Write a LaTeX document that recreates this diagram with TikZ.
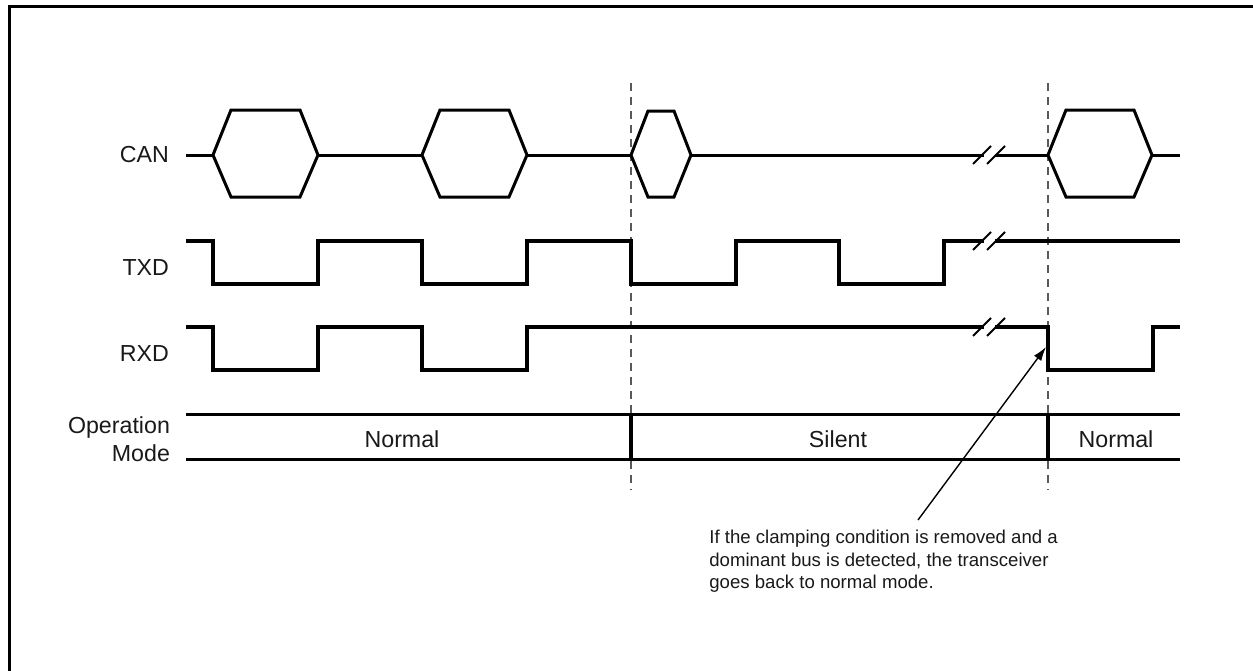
\documentclass[tikz,border=0pt]{standalone}
\usepackage{fontspec}
\setmainfont{Liberation Sans}
\usetikzlibrary{arrows.meta}

\tikzset{
  sig/.style={line width=1.5pt, line join=miter},
  txdsig/.style={line width=2.1pt, line join=miter},
  rxdsig/.style={line width=1.7pt, line join=miter},
  brk/.style={line width=0.9pt},
  marker/.style={dash pattern=on 4pt off 3pt, line width=0.7pt, color=black!65},
  lbl/.style={anchor=east, font=\fontsize{11.6}{14}\selectfont, text=black!90},
  modetxt/.style={font=\fontsize{11.6}{14}\selectfont, text=black!90},
}

\begin{document}
\begin{tikzpicture}[x=0.5pt, y=-0.5pt]
    \clip (0,0) rectangle (1253,670);
    \draw [line width=1.5pt] (9.7, 6.3) rectangle (1300, 720);

    % signal names
    \node[lbl] (can) at (176, 155) {CAN};
    \node[lbl] (txd) at (176, 268) {TXD};
    \node[lbl] (rxd) at (176, 354) {RXD};
    \node[lbl, align=right] (opmode) at (177, 439) {Operation\\Mode};

    % mode changes
    \draw [marker] (631, 83) -- (631, 490);
    \draw [marker] (1048, 83) -- (1048, 490);

    % CAN bus
    \draw [sig] (186, 155) -- (213, 155);
    \draw [sig] (318, 155) -- (422, 155);
    \draw [sig] (527, 155) -- (631, 155);
    \draw [sig] (691, 155) -- (984, 155);
    \draw [sig] (995, 155) -- (1048, 155);
    \draw [sig] (1152, 155) -- (1180, 155);
    \foreach \a/\b in {213/318, 422/527, 1048/1152}
        \draw [sig] (\a, 155) -- (\a+18, 110) -- (\b-18, 110) -- (\b, 155)
                    -- (\b-18, 197) -- (\a+18, 197) -- cycle;
    \draw [sig] (631, 155) -- (648, 111) -- (674, 111) -- (691, 155)
                -- (674, 197) -- (648, 197) -- cycle;

    % TXD
    \draw [txdsig] (186, 241) -- (213, 241) -- (213, 284) -- (318, 284) -- (318, 241)
        -- (422, 241) -- (422, 284) -- (527, 284) -- (527, 241) -- (631, 241)
        -- (631, 284) -- (736, 284) -- (736, 241) -- (839, 241) -- (839, 284)
        -- (944, 284) -- (944, 241) -- (984, 241);
    \draw [txdsig] (995, 241) -- (1180, 241);

    % RXD
    \draw [rxdsig] (186, 327) -- (213, 327) -- (213, 370) -- (318, 370) -- (318, 327)
        -- (422, 327) -- (422, 370) -- (527, 370) -- (527, 327) -- (984, 327);
    \draw [rxdsig] (995, 327) -- (1048, 327) -- (1048, 370) -- (1153, 370)
        -- (1153, 327) -- (1180, 327);

    % breaks
    \foreach \y in {155, 241, 327} {
        \draw [brk] (973, \y+9) -- (991, \y-9);
        \draw [brk] (987, \y+9) -- (1005, \y-9);
    }

    % operation mode
    \draw [sig] (186, 414) -- (1180, 414);
    \draw [sig] (186, 459) -- (1180, 459);
    \draw [txdsig] (631, 414) -- (631, 459);
    \draw [txdsig] (1048, 414) -- (1048, 459);
    \node[modetxt] (normala) at (402, 439) {Normal};
    \node[modetxt] (silent) at (838, 439) {Silent};
    \node[modetxt] (normalb) at (1116, 439) {Normal};

    % note
    \node[anchor=north west, align=left, inner sep=0pt, text=black!90,
          font=\fontsize{9.3}{11.1}\selectfont] (note) at (709, 530)
        {If the clamping condition is removed and a\\
         dominant bus is detected, the transceiver\\
         goes back to normal mode.};
    \coordinate (notetip) at (918, 520);
    \coordinate (rxdfall) at (1046, 347);
    \draw [-{Latex[length=7pt, width=4.5pt]}, line width=0.7pt] (notetip) -- (rxdfall);
\end{tikzpicture}
\end{document}
